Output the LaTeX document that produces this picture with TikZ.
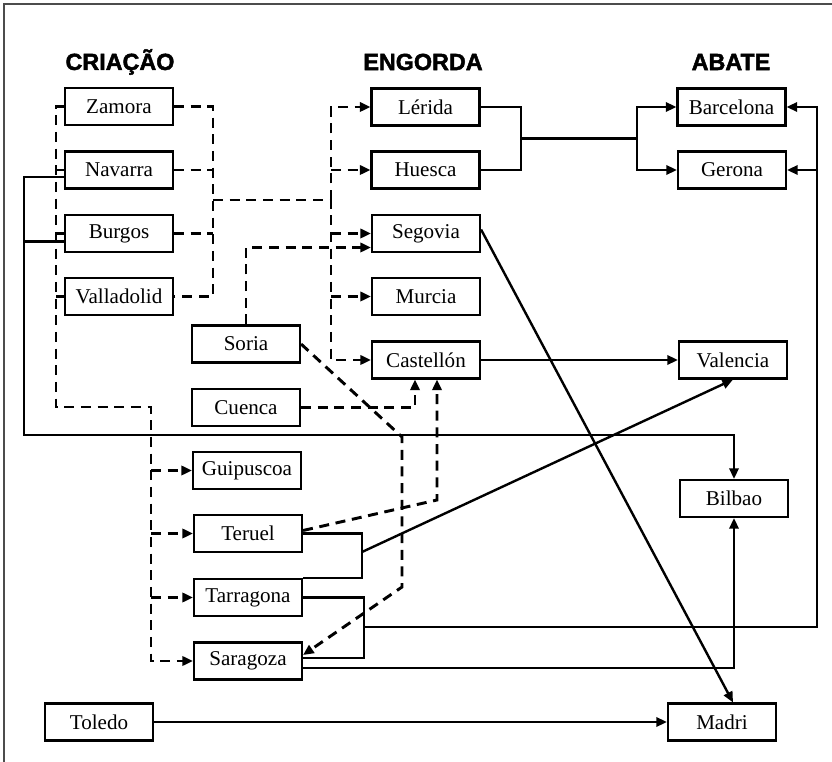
\documentclass[tikz,border=0pt]{standalone}
\usepackage{fontspec}
\setmainfont{Liberation Serif}
\newfontfamily\headfont{Liberation Sans}[FakeBold=2]
\usetikzlibrary{arrows.meta,calc}

\begin{document}
\begin{tikzpicture}[x=0.75pt,y=-0.75pt,
  city/.style={draw, line width=1.6pt, minimum width=81pt, minimum height=27.75pt,
    inner sep=0pt, font=\fontsize{15.8}{18}\selectfont},
  head/.style={font=\headfont\bfseries\fontsize{17.5}{20}\selectfont},
  dline/.style={line width=2.2pt, dash pattern=on 7.5pt off 5pt},
  sline/.style={line width=1.8pt},
  tip/.style={-{Triangle[length=8pt,width=7pt]}},
]
\useasboundingbox (0,0) rectangle (832,762);

% frame
\draw[line width=1pt, black!70] (4,762) -- (4,4) -- (832,4);

% column titles
\node[head] (tcria) at (120,62) {CRIAÇÃO};
\node[head] (tengo) at (423,62) {ENGORDA};
\node[head] (tabate) at (731,62) {ABATE};

% breeding regions
\node[city] (zamora) at (119,106.5) {Zamora};
\node[city] (navarra) at (119,170) {Navarra};
\node[city] (burgos) at (119,233.5) {Burgos};
\node[city] (valladolid) at (119,296.5) {Valladolid};
\node[city] (soria) at (246,344) {Soria};
\node[city] (cuenca) at (246,407.5) {Cuenca};
\node[city] (guipuscoa) at (247,470.5) {Guipuscoa};
\node[city] (teruel) at (248,533.5) {Teruel};
\node[city] (tarragona) at (248,597.5) {Tarragona};
\node[city] (saragoza) at (248,661) {Saragoza};
\node[city] (toledo) at (99,722) {Toledo};

% fattening regions
\node[city] (lerida) at (425.5,107) {Lérida};
\node[city] (huesca) at (425.5,170) {Huesca};
\node[city] (segovia) at (426,233.5) {Segovia};
\node[city] (murcia) at (426,296.5) {Murcia};
\node[city] (castellon) at (426,360) {Castellón};

% slaughter regions
\node[city] (barcelona) at (731.5,107) {Barcelona};
\node[city] (gerona) at (732,170) {Gerona};
\node[city] (valencia) at (733,360) {Valencia};
\node[city] (bilbao) at (734,498.5) {Bilbao};
\node[city] (madri) at (722,722) {Madri};

% bus corners and junctions
\coordinate (cwbus) at (56,407);
\coordinate (sbus) at (151,407);
\coordinate (cebus) at (213,200);
\coordinate (ebus) at (331,200);
\coordinate (lhj) at (521,138.5);
\coordinate (bgj) at (637,138.5);
\coordinate (rbus) at (817,627);
\coordinate (tsj) at (363,627);
\coordinate (nbj) at (24,435);
\coordinate (ttj) at (362,552);
\coordinate (sor1) at (402,437);
\coordinate (sor2) at (402,587);
\coordinate (terc) at (437,500);

% dashed flows: west bus of the breeding column
\draw[dline,tip] (zamora.west) -| (cwbus) -| (sbus |- saragoza.west) -- (saragoza.west);
\foreach \n in {navarra,burgos,valladolid} \draw[dline] (\n.west) -- (\n.west -| cwbus);
\foreach \n in {guipuscoa,teruel,tarragona} \draw[dline,tip] (\n.west -| sbus) -- (\n.west);

% dashed flows: east bus into the fattening column
\draw[dline] (zamora.east) -| (valladolid.east -| cebus) -- (valladolid.east);
\foreach \n in {navarra,burgos} \draw[dline] (\n.east) -- (\n.east -| cebus);
\draw[dline,tip] (cebus) -| (castellon.west -| ebus) -- (castellon.west);
\draw[dline,tip] (ebus) |- (lerida.west);
\foreach \n in {huesca,segovia,murcia} \draw[dline,tip] (\n.west -| ebus) -- (\n.west);

% dashed flows from Soria, Cuenca, Teruel
\draw[dline,tip] (soria.north) |- ($(segovia.west)+(0,14)$);
\draw[dline,tip] (soria.east) -- (sor1) -- (sor2) -- ($(saragoza.east)+(0,-6)$);
\draw[dline,tip] (cuenca.east) -| ($(castellon.south)+(-11,0)$);
\draw[dline,tip] ($(teruel.east)+(0,-3)$) -- (terc) -- (terc |- castellon.south);

% solid flows to slaughter
\draw[sline] (lerida.east) -| (huesca.east -| lhj) -- (huesca.east);
\draw[sline] (lhj) -- (bgj);
\draw[sline,tip] (bgj) |- (barcelona.west);
\draw[sline,tip] (bgj) |- (gerona.west);
\draw[sline] (teruel.east) -| (tarragona.north east -| ttj) -- (tarragona.north east);
\draw[sline,tip] (ttj) -- (valencia.south);
\draw[sline] (tarragona.east) -| ($(saragoza.east)+(61,-3)$) -- ($(saragoza.east)+(0,-3)$);
\draw[sline,tip] (tsj) -| (barcelona.east -| rbus) -- (barcelona.east);
\draw[sline,tip] (gerona.east -| rbus) -- (gerona.east);
\draw[sline,tip] ($(saragoza.east)+(0,7)$) -| (bilbao.south);
\draw[sline,tip] ($(navarra.west)+(0,7)$) -| (nbj) -| (bilbao.north);
\draw[sline] ($(burgos.west)+(0,8)$) -| (nbj);
\draw[sline,tip] (castellon.east) -- (valencia.west);
\draw[sline,tip] ($(segovia.east)+(0,-4)$) -- ($(madri.north)+(11,0)$);
\draw[sline,tip] (toledo.east) -- (madri.west);
\end{tikzpicture}
\end{document}
